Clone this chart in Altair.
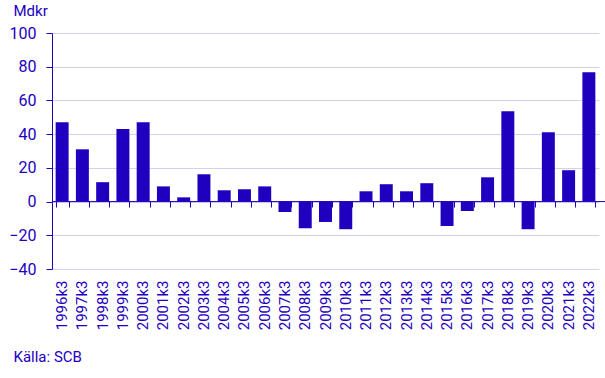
import altair as alt
import pandas as pd

periods = [f"{y}k3" for y in range(1996, 2023)]
values = [47, 31, 11.5, 43, 47, 9, 2.5, 16.2, 6.7, 7.3, 9, -6.2, -15.8, -12.1, -16.4,
          6.1, 10.3, 6.1, 10.9, -14.5, -5.6, 14.4, 53.6, -16.4, 41.1, 18.6, 76.7]

df = pd.DataFrame({"period": periods, "value": values})

BLUE = "#1e00be"
GRID = "#d3d0f0"
FONT = "Roboto"

xscale = alt.Scale(paddingInner=0.36, paddingOuter=0.18, range=[0, 547])
yscale = alt.Scale(domain=[-40, 100], nice=False)

yaxis = alt.Axis(title="Mdkr", values=[-40, -20, 0, 20, 40, 60, 80, 100],
                 labelFontSize=16, labelFont=FONT, labelColor=BLUE,
                 labelPadding=10, tickSize=6, tickColor=BLUE,
                 domainColor=BLUE, gridColor=GRID,
                 titleAngle=0, titleX=-39, titleY=-18, titleAlign="left",
                 titleBaseline="alphabetic", titleFont=FONT,
                 titleFontSize=15, titleFontWeight="normal", titleColor=BLUE)

bars = alt.Chart(df).mark_bar(color=BLUE).encode(
    x=alt.X("period:N", sort=periods, scale=xscale,
            axis=alt.Axis(title="Källa: SCB", orient="bottom", labelAngle=-90,
                          labelFontSize=15, labelFont=FONT, labelColor=BLUE,
                          labelPadding=11, ticks=False, domain=False, grid=False,
                          titleX=-39, titleY=92, titleAlign="left",
                          titleAnchor="start", titleBaseline="alphabetic",
                          titleFont=FONT, titleFontSize=15, titleFontWeight="normal",
                          titleColor=BLUE)),
    y=alt.Y("value:Q", scale=yscale, axis=yaxis),
)

ticks = alt.Chart(df).mark_bar(opacity=0).encode(
    x=alt.X("period:N", sort=periods, scale=xscale,
            axis=alt.Axis(title=None, orient="bottom", labels=False, ticks=True,
                          tickBand="extent", tickSize=6, tickColor=BLUE,
                          domain=False, grid=False, offset=-68)),
    y=alt.Y("value:Q", scale=yscale, axis=yaxis),
)

zero = alt.Chart(df).mark_rule(color=BLUE, strokeWidth=1).encode(
    y=alt.Y("zero:Q", scale=yscale, axis=yaxis),
).transform_calculate(zero="0").transform_aggregate(zero="min(zero)")

chart = alt.layer(bars, ticks, zero).resolve_axis(x="independent").properties(
    width=553, height=236,
    autosize=alt.AutoSizeParams(type="none"),
    padding={"left": 52, "top": 33, "right": 0, "bottom": 109},
).configure_view(stroke=None)

chart.save("out.html", embed_options={"renderer": "svg", "actions": False})
